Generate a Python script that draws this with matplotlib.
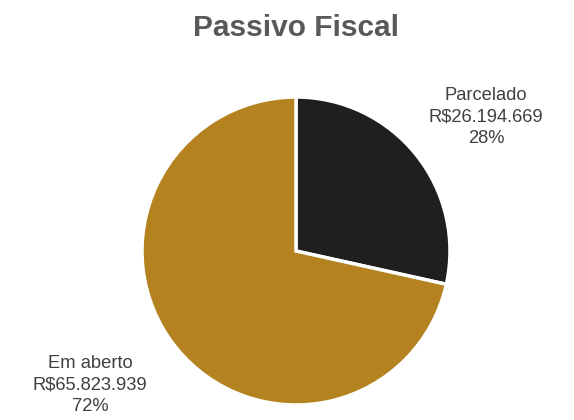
import matplotlib
matplotlib.use("Agg")
import matplotlib.pyplot as plt

categories = ["Parcelado", "Em aberto"]
values = [26194669, 65823939]
colors = ["#1f1f1f", "#b48320"]

plt.rcParams['font.family'] = ['Liberation Sans', 'DejaVu Sans']

W, H = 574, 420
fig = plt.figure(figsize=(W/100, H/100), dpi=100)
cx, cy, r = 296, 251, 154
ax = fig.add_axes([(cx - r)/W, (H - cy - r)/H, 2*r/W, 2*r/H])
ax.pie(values, colors=colors, startangle=90, counterclock=False,
       wedgeprops=dict(edgecolor="white", linewidth=2.5), radius=1)
ax.set_xlim(-1, 1)
ax.set_ylim(-1, 1)
ax.set_aspect("equal")
ax.axis("off")

fig.text(296/W, 1 - 28/H, "Passivo Fiscal", ha="center", va="center",
         fontsize=21.5, fontweight="bold", color="#595959")

total = sum(values)
def fmt(v):
    return "R$" + f"{v:,}".replace(",", ".")

label_pos = [(486, 117), (90, 385)]
for cat, v, (lx, ly) in zip(categories, values, label_pos):
    txt = f"{cat}\n{fmt(v)}\n{round(100*v/total)}%"
    fig.text(lx/W, 1 - ly/H, txt, ha="center", va="center", fontsize=13.2,
             color="#404040", linespacing=1.38)

fig.savefig("out.png", dpi=100)
